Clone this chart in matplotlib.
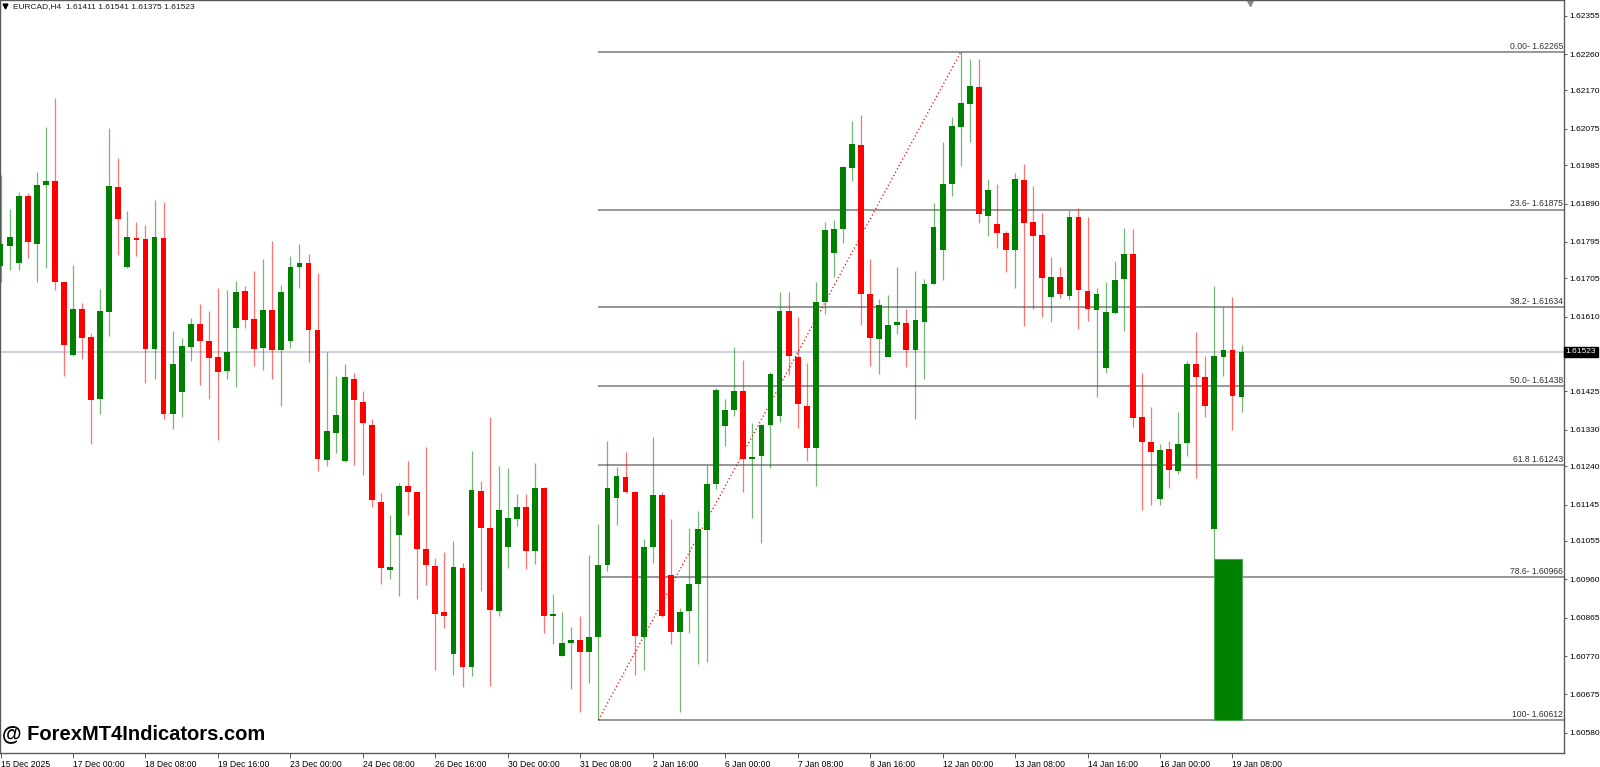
import numpy as np
import matplotlib
matplotlib.use("Agg")
import matplotlib.pyplot as plt
from matplotlib.patches import Rectangle
from matplotlib.transforms import blended_transform_factory

# EURCAD H4 candles, 15 Dec 2025 16:00 -> 19 Jan 2026 12:00
opens = [1.61736, 1.61786, 1.61743, 1.61910, 1.61791, 1.61937, 1.61945, 1.61695,
         1.61515, 1.61628, 1.61559, 1.61406, 1.61622, 1.61932, 1.61733, 1.61803,
         1.61803, 1.61529, 1.61804, 1.61370, 1.61424, 1.61536, 1.61593, 1.61549,
         1.61510, 1.61476, 1.61583, 1.61673, 1.61604, 1.61533, 1.61626, 1.61527,
         1.61551, 1.61733, 1.61743, 1.61578, 1.61256, 1.61323, 1.61252, 1.61457,
         1.61400, 1.61342, 1.61151, 1.60984, 1.61069, 1.61191, 1.61175, 1.61035,
         1.60992, 1.60878, 1.60775, 1.60988, 1.60744, 1.61179, 1.61087, 1.60882,
         1.61040, 1.61109, 1.61139, 1.61029, 1.61185, 1.60869, 1.60770, 1.60803,
         1.60810, 1.60780, 1.60817, 1.60996, 1.61161, 1.61213, 1.61175, 1.60818,
         1.61041, 1.61169, 1.60970, 1.60830, 1.60881, 1.60948, 1.61081, 1.61197,
         1.61340, 1.61380, 1.61427, 1.61259, 1.61264, 1.61343, 1.61363, 1.61623,
         1.61510, 1.61390, 1.61286, 1.61647, 1.61767, 1.61828, 1.61979, 1.62036,
         1.61665, 1.61555, 1.61511, 1.61590, 1.61595, 1.61528, 1.61598, 1.61692,
         1.61776, 1.61939, 1.62080, 1.62137, 1.62179, 1.61859, 1.61839, 1.61817,
         1.61774, 1.61949, 1.61845, 1.61813, 1.61658, 1.61708, 1.61662, 1.61856,
         1.61674, 1.61627, 1.61484, 1.61620, 1.61704, 1.61766, 1.61361, 1.61301,
         1.61158, 1.61282, 1.61229, 1.61297, 1.61493, 1.61460, 1.61085, 1.61510,
         1.61527, 1.61411]
highs = [1.61962, 1.61876, 1.61919, 1.61917, 1.61967, 1.62079, 1.62152, 1.61697,
         1.61738, 1.61645, 1.61569, 1.61678, 1.62076, 1.62004, 1.61871, 1.61844,
         1.61837, 1.61900, 1.61893, 1.61574, 1.61558, 1.61606, 1.61642, 1.61624,
         1.61681, 1.61677, 1.61699, 1.61685, 1.61724, 1.61752, 1.61797, 1.61689,
         1.61761, 1.61790, 1.61765, 1.61719, 1.61523, 1.61464, 1.61493, 1.61471,
         1.61426, 1.61358, 1.61173, 1.61118, 1.61199, 1.61252, 1.61177, 1.61287,
         1.61013, 1.61028, 1.61055, 1.61000, 1.61277, 1.61204, 1.61361, 1.61241,
         1.61235, 1.61171, 1.61171, 1.61249, 1.61188, 1.60924, 1.60880, 1.60842,
         1.60869, 1.61021, 1.61096, 1.61303, 1.61238, 1.61275, 1.61178, 1.61060,
         1.61313, 1.61175, 1.61110, 1.60890, 1.61088, 1.61129, 1.61242, 1.61434,
         1.61406, 1.61535, 1.61504, 1.61346, 1.61345, 1.61472, 1.61670, 1.61670,
         1.61610, 1.61495, 1.61696, 1.61844, 1.61849, 1.61982, 1.62095, 1.62109,
         1.61752, 1.61654, 1.61663, 1.61733, 1.61630, 1.61724, 1.61703, 1.61891,
         1.62043, 1.62104, 1.62265, 1.62248, 1.62248, 1.61952, 1.61938, 1.61821,
         1.61965, 1.61988, 1.61934, 1.61867, 1.61757, 1.61732, 1.61874, 1.61880,
         1.61858, 1.61680, 1.61695, 1.61747, 1.61829, 1.61827, 1.61470, 1.61386,
         1.61294, 1.61302, 1.61374, 1.61501, 1.61571, 1.61513, 1.61687, 1.61634,
         1.61659, 1.61541]
lows = [1.61696, 1.61725, 1.61725, 1.61756, 1.61695, 1.61731, 1.61676, 1.61464,
        1.61513, 1.61505, 1.61294, 1.61370, 1.61562, 1.61764, 1.61731, 1.61761,
        1.61446, 1.61455, 1.61356, 1.61331, 1.61361, 1.61501, 1.61442, 1.61407,
        1.61304, 1.61457, 1.61436, 1.61583, 1.61489, 1.61477, 1.61455, 1.61390,
        1.61533, 1.61682, 1.61497, 1.61229, 1.61240, 1.61272, 1.61250, 1.61243,
        1.61219, 1.61139, 1.60948, 1.60961, 1.60919, 1.61120, 1.60911, 1.60946,
        1.60735, 1.60839, 1.60723, 1.60693, 1.60721, 1.60932, 1.60697, 1.60868,
        1.60987, 1.61092, 1.60986, 1.60998, 1.60827, 1.60801, 1.60769, 1.60688,
        1.60631, 1.60703, 1.60612, 1.60981, 1.61094, 1.61173, 1.60722, 1.60736,
        1.61001, 1.60867, 1.60800, 1.60632, 1.60826, 1.60750, 1.60755, 1.61184,
        1.61289, 1.61364, 1.61175, 1.61111, 1.61051, 1.61236, 1.61349, 1.61466,
        1.61334, 1.61254, 1.61190, 1.61616, 1.61708, 1.61793, 1.61945, 1.61590,
        1.61487, 1.61468, 1.61510, 1.61566, 1.61485, 1.61356, 1.61456, 1.61690,
        1.61701, 1.61908, 1.61982, 1.62043, 1.61843, 1.61810, 1.61781, 1.61720,
        1.61680, 1.61587, 1.61628, 1.61609, 1.61598, 1.61656, 1.61651, 1.61579,
        1.61599, 1.61412, 1.61470, 1.61616, 1.61575, 1.61337, 1.61132, 1.61145,
        1.61145, 1.61187, 1.61220, 1.61265, 1.61211, 1.61362, 1.61010, 1.61464,
        1.61330, 1.61375]
closes = [1.61789, 1.61807, 1.61908, 1.61794, 1.61935, 1.61947, 1.61696, 1.61540,
          1.61628, 1.61558, 1.61404, 1.61624, 1.61933, 1.61851, 1.61807, 1.61801,
          1.61530, 1.61807, 1.61368, 1.61493, 1.61537, 1.61591, 1.61550, 1.61508,
          1.61474, 1.61523, 1.61671, 1.61601, 1.61531, 1.61626, 1.61527, 1.61672,
          1.61732, 1.61743, 1.61576, 1.61257, 1.61326, 1.61366, 1.61460, 1.61403,
          1.61346, 1.61156, 1.60989, 1.60991, 1.61191, 1.61175, 1.61034, 1.60996,
          1.60873, 1.60870, 1.60990, 1.60742, 1.61181, 1.61086, 1.60883, 1.61132,
          1.61111, 1.61139, 1.61029, 1.61185, 1.60869, 1.60871, 1.60803, 1.60809,
          1.60781, 1.60818, 1.60996, 1.61185, 1.61215, 1.61175, 1.60819, 1.61041,
          1.61168, 1.60869, 1.60829, 1.60880, 1.60948, 1.61084, 1.61196, 1.61428,
          1.61380, 1.61426, 1.61259, 1.61263, 1.61343, 1.61469, 1.61623, 1.61512,
          1.61393, 1.61284, 1.61647, 1.61824, 1.61828, 1.61980, 1.62037, 1.61666,
          1.61558, 1.61638, 1.61590, 1.61596, 1.61528, 1.61601, 1.61691, 1.61831,
          1.61939, 1.62082, 1.62140, 1.62180, 1.61864, 1.61923, 1.61818, 1.61775,
          1.61950, 1.61843, 1.61810, 1.61707, 1.61708, 1.61665, 1.61856, 1.61677,
          1.61629, 1.61666, 1.61622, 1.61702, 1.61766, 1.61360, 1.61299, 1.61274,
          1.61281, 1.61231, 1.61294, 1.61492, 1.61461, 1.61390, 1.61512, 1.61528,
          1.61414, 1.61523]

# time axis labels, one every 8 bars
date_labels = ["15 Dec 2025", "17 Dec 00:00", "18 Dec 08:00", "19 Dec 16:00",
               "23 Dec 00:00", "24 Dec 08:00", "26 Dec 16:00", "30 Dec 00:00",
               "31 Dec 08:00", "2 Jan 16:00", "6 Jan 00:00", "7 Jan 08:00",
               "8 Jan 16:00", "12 Jan 00:00", "13 Jan 08:00", "14 Jan 16:00",
               "16 Jan 00:00", "19 Jan 08:00"]
price_ticks = [1.62355, 1.62260, 1.62170, 1.62075, 1.61985, 1.61890, 1.61795,
               1.61705, 1.61610, 1.61425, 1.61330, 1.61240, 1.61145, 1.61055,
               1.60960, 1.60865, 1.60770, 1.60675, 1.60580]

# fibonacci retracement (bar index of swing low / high)
fib_low_bar, fib_high_bar = 66, 106
fib_low, fib_high = 1.60612, 1.62265
fib_levels = [1.62265, 1.61875, 1.61634, 1.61438, 1.61243, 1.60966, 1.60612]
fib_labels = ["0.00- 1.62265", "23.6- 1.61875", "38.2- 1.61634", "50.0- 1.61438",
              "61.8 1.61243", "78.6- 1.60966", "100- 1.60612"]

# green box drawn on the chart
box_bars = [134, 137]
box_prices = [1.60612, 1.61010]

last_price = 1.61523
symbol_info = "EURCAD,H4  1.61411 1.61541 1.61375 1.61523"

GREEN = "#008000"
RED = "#ff0000"
FONT = "Liberation Sans"

fig = plt.figure(figsize=(16, 7.67), dpi=100)
ax = fig.add_axes([0, 14 / 767, 1564 / 1600, 753 / 767])
ax.set_xlim(-0.06, 172.6)
ax.set_ylim(1.60530, 1.62394)

o = np.array(opens)
h = np.array(highs)
l = np.array(lows)
c = np.array(closes)
x = np.arange(len(o))
up = c >= o
colors = np.where(up, GREEN, RED)

# current price line
ax.axhline(last_price, color="#c5ccd4", lw=1.2, zorder=1)

# fib lines
ax.hlines(fib_levels, fib_low_bar, ax.get_xlim()[1], color="#7a7a7a", lw=1.1, zorder=1)
ax.plot([fib_low_bar, fib_high_bar], [fib_low, fib_high], color=RED, ls=(0, (1, 2)),
        lw=0.9, zorder=2)
tr = blended_transform_factory(ax.transAxes, ax.transData)
for lv, lab in zip(fib_levels, fib_labels):
    ax.text(0.9995, lv + 0.00003, lab, transform=tr, ha="right", va="bottom",
            fontsize=6.2, family=FONT, color="#303030")

# candles
ax.vlines(x, l, h, colors=colors, lw=0.9, alpha=0.55, zorder=3)
body_low = np.minimum(o, c)
body_h = np.maximum(np.abs(c - o), 0.00004)
ax.bar(x, body_h, bottom=body_low, width=0.64, color=colors, lw=0, zorder=4)

ax.add_patch(Rectangle((box_bars[0], box_prices[0]), box_bars[1] - box_bars[0],
                       box_prices[1] - box_prices[0], facecolor=GREEN,
                       edgecolor="#4ca64c", lw=0.8, zorder=5))

# axes styling
for s in ax.spines.values():
    s.set_color("#5a5a5a")
    s.set_linewidth(1.0)
ax.yaxis.tick_right()
ax.set_yticks(price_ticks)
ax.set_yticklabels([f"{p:.5f}" for p in price_ticks])
ax.set_xticks(np.arange(len(date_labels)) * 8)
ax.set_xticklabels(date_labels, ha="left")
ax.tick_params(axis="y", direction="out", length=2.5, width=0.7, color="#5a5a5a",
               pad=1.0, labelsize=6.0)
ax.tick_params(axis="x", direction="out", length=3.5, width=0.7, color="#5a5a5a",
               pad=1.5, labelsize=6.2)
for t in ax.get_xticklabels() + ax.get_yticklabels():
    t.set_family(FONT)

ax.text(1.001, last_price, f"{last_price:.5f}", transform=tr, ha="left", va="center",
        fontsize=6.0, family=FONT, color="white",
        bbox=dict(boxstyle="square,pad=0.2", fc="black", ec="black"))

ax.plot([0.0035], [0.992], marker="v", color="black", ms=3.5, transform=ax.transAxes,
        clip_on=False)
ax.text(0.008, 0.9915, symbol_info, transform=ax.transAxes, ha="left", va="center",
        fontsize=6, family=FONT, color="#1a1a1a")
ax.plot([0.7995], [0.997], marker="v", color="#8a8a8a", ms=6, transform=ax.transAxes,
        clip_on=False)

ax.text(0.0015, 0.0135, "@ ForexMT4Indicators.com", transform=ax.transAxes,
        ha="left", va="bottom", fontsize=14.5, fontweight="bold", family=FONT,
        color="black")

fig.savefig("out.png", dpi=100, facecolor="white")
